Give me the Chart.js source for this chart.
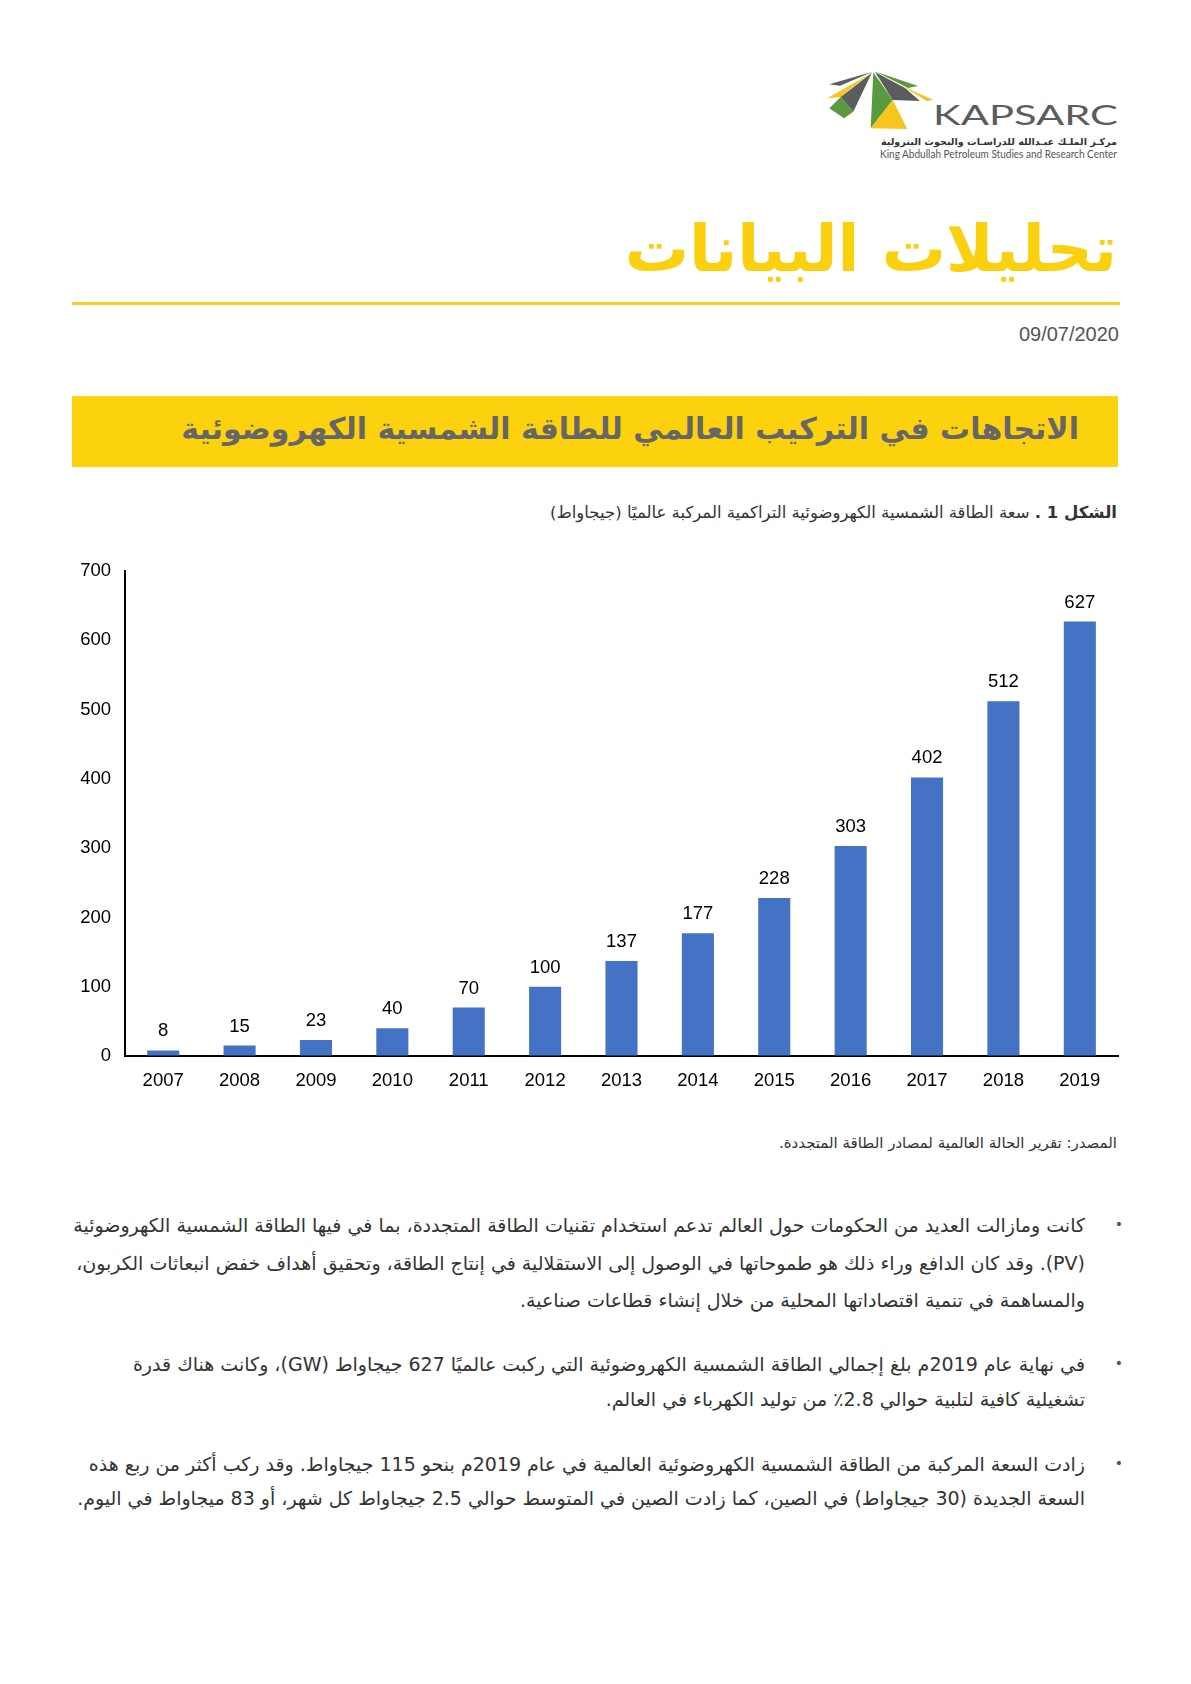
<!DOCTYPE html>
<html lang="ar">
<head>
  <meta charset="UTF-8">
  <title>الاتجاهات في التركيب العالمي للطاقة الشمسية الكهروضوئية</title>
  <script src="https://cdn.jsdelivr.net/npm/chart.js"></script>
  <style>
    body {
      margin: 0;
      width: 1191px;
      height: 1684px;
      background: #fff;
      position: relative;
      font-family: "DejaVu Sans", sans-serif;
      overflow: hidden;
    }
    .abs { position: absolute; white-space: nowrap; }
    #logo { left: 820px; top: 60px; width: 310px; height: 110px; }
    #logoAr {
      right: 74px; top: 136px;
      font-size: 9.6px; font-weight: bold; color: #333; direction: rtl;
    }
    #title {
      right: 74px; top: 217px;
      font-size: 64px; font-weight: bold; color: #fbd00f;
      direction: rtl; line-height: 1;
    }
    #rule { left: 72px; width: 1048px; top: 302px; height: 3px; background: #f8cf24; }
    #date {
      right: 72px; top: 323px;
      font-family: "Liberation Sans", Arial, sans-serif;
      font-size: 20px; color: #555;
    }
    #banner { left: 72px; top: 396px; width: 1046px; height: 71px; background: #fcd20f; }
    #bannerText {
      right: 112px; top: 411px;
      font-size: 30px; font-weight: bold; color: #666;
      direction: rtl; line-height: 1.2;
    }
    #caption {
      right: 74px; top: 503px;
      font-size: 16.5px; color: #333; direction: rtl;
    }
    #chartBox { left: 40px; top: 540px; width: 1090px; height: 560px; }
    #source {
      right: 74px; top: 1134px;
      font-size: 15px; color: #333; direction: rtl;
    }
    .line {
      right: 106px; font-size: 19px; color: #333; direction: rtl;
      line-height: 24px;
    }
    .dot { right: 68px; font-size: 14px; color: #555; line-height: 24px; }
  </style>
</head>
<body>
  <svg id="logo" class="abs" viewBox="0 0 310 110">
    <polygon points="9.3,24.3 52.7,11.7 20,25.7" fill="#5b5c5e"/>
    <polygon points="7.3,38.3 51.7,13 31.7,27.7 20.7,37" fill="#f7c51c"/>
    <polygon points="20.7,37 51.7,13 33.3,51.7" fill="#5b5c5e"/>
    <polygon points="9.3,48.3 20.7,37 33.3,51.7 24,58.3" fill="#5a9a3f"/>
    <polygon points="53.3,12.3 50.7,68.3 72.7,40" fill="#5a9a3f"/>
    <polygon points="50.7,68.3 72.7,40 87.3,69" fill="#f7c51c"/>
    <polygon points="55,12 72.7,40 100,41 85,28" fill="#5b5c5e"/>
    <polygon points="56,11.7 98,26 88,28" fill="#5a9a3f"/>
    <polygon points="81.7,25.7 113.3,40 106.7,41" fill="#f7c51c"/>
    <text x="113" y="65" font-family="Lato, sans-serif" font-size="26" fill="#5b5c5e"
          textLength="185" lengthAdjust="spacingAndGlyphs">KAPSARC</text>
    <text x="60" y="98" font-family="Lato, sans-serif" font-size="11.5" fill="#555"
          textLength="237" lengthAdjust="spacingAndGlyphs">King Abdullah Petroleum Studies and Research Center</text>
  </svg>
  <div id="logoAr" class="abs">مركـز الملـك عبـدالله للدراسـات والبحوث البترولية</div>

  <div id="title" class="abs">تحليلات البيانات</div>
  <div id="rule" class="abs"></div>
  <div id="date" class="abs">09/07/2020</div>

  <div id="banner" class="abs"></div>
  <div id="bannerText" class="abs">الاتجاهات في التركيب العالمي للطاقة الشمسية الكهروضوئية</div>

  <div id="caption" class="abs"><b>الشكل 1 .</b> سعة الطاقة الشمسية الكهروضوئية التراكمية المركبة عالميًا (جيجاواط)</div>

  <div id="chartBox" class="abs"><canvas id="pvChart"></canvas></div>

  <div id="source" class="abs">المصدر: تقرير الحالة العالمية لمصادر الطاقة المتجددة.</div>

  <div class="abs dot" style="top:1212px">•</div>
  <div class="abs line" style="top:1213px">كانت ومازالت العديد من الحكومات حول العالم تدعم استخدام تقنيات الطاقة المتجددة، بما في فيها الطاقة الشمسية الكهروضوئية</div>
  <div class="abs line" style="top:1251px">(PV). وقد كان الدافع وراء ذلك هو طموحاتها في الوصول إلى الاستقلالية في إنتاج الطاقة، وتحقيق أهداف خفض انبعاثات الكربون،</div>
  <div class="abs line" style="top:1288px">والمساهمة في تنمية اقتصاداتها المحلية من خلال إنشاء قطاعات صناعية.</div>

  <div class="abs dot" style="top:1351px">•</div>
  <div class="abs line" style="top:1352px">في نهاية عام 2019م بلغ إجمالي الطاقة الشمسية الكهروضوئية التي ركبت عالميًا 627 جيجاواط (GW)، وكانت هناك قدرة</div>
  <div class="abs line" style="top:1387px">تشغيلية كافية لتلبية حوالي 2.8٪ من توليد الكهرباء في العالم.</div>

  <div class="abs dot" style="top:1451px">•</div>
  <div class="abs line" style="top:1452px">زادت السعة المركبة من الطاقة الشمسية الكهروضوئية العالمية في عام 2019م بنحو 115 جيجاواط. وقد ركب أكثر من ربع هذه</div>
  <div class="abs line" style="top:1486px">السعة الجديدة (30 جيجاواط) في الصين، كما زادت الصين في المتوسط حوالي 2.5 جيجاواط كل شهر، أو 83 ميجاواط في اليوم.</div>

  <script>
    // cumulative installed solar PV capacity, GW
    const years = ['2007', '2008', '2009', '2010', '2011', '2012', '2013',
                   '2014', '2015', '2016', '2017', '2018', '2019'];
    const capacity = [8, 15, 23, 40, 70, 100, 137, 177, 228, 303, 402, 512, 627];
    const yTicks = [0, 100, 200, 300, 400, 500, 600, 700];

    const tickFont = { family: '"Liberation Sans", Arial, sans-serif', size: 18.5 };

    // values written above each bar
    const valueLabels = {
      id: 'valueLabels',
      afterDatasetsDraw(chart) {
        const ctx = chart.ctx;
        const meta = chart.getDatasetMeta(0);
        ctx.save();
        ctx.font = '18.5px "Liberation Sans", Arial, sans-serif';
        ctx.fillStyle = '#000';
        ctx.textAlign = 'center';
        ctx.textBaseline = 'alphabetic';
        meta.data.forEach((bar, i) => {
          ctx.fillText(String(capacity[i]), bar.x, bar.y - 14);
        });
        ctx.restore();
      }
    };

    new Chart(document.getElementById('pvChart'), {
      type: 'bar',
      data: {
        labels: years,
        datasets: [{
          data: capacity,
          backgroundColor: '#4472c4',
          barPercentage: 0.42,
          categoryPercentage: 1
        }]
      },
      options: {
        responsive: true,
        maintainAspectRatio: false,
        animation: false,
        layout: { padding: { top: 31, right: 12 } },
        plugins: {
          legend: { display: false },
          tooltip: { enabled: false }
        },
        scales: {
          x: {
            grid: { drawOnChartArea: false, drawTicks: false },
            border: { color: '#000', width: 2 },
            ticks: { color: '#000', font: tickFont, padding: 14 },
            afterFit(scale) { scale.height = 44; }
          },
          y: {
            min: 0,
            max: 700,
            grid: { drawOnChartArea: false, drawTicks: false },
            border: { color: '#000', width: 2 },
            afterBuildTicks(scale) { scale.ticks = yTicks.map(v => ({ value: v })); },
            ticks: { color: '#000', font: tickFont, padding: 14 },
            afterFit(scale) { scale.width = 85; }
          }
        }
      },
      plugins: [valueLabels]
    });
  </script>
</body>
</html>
